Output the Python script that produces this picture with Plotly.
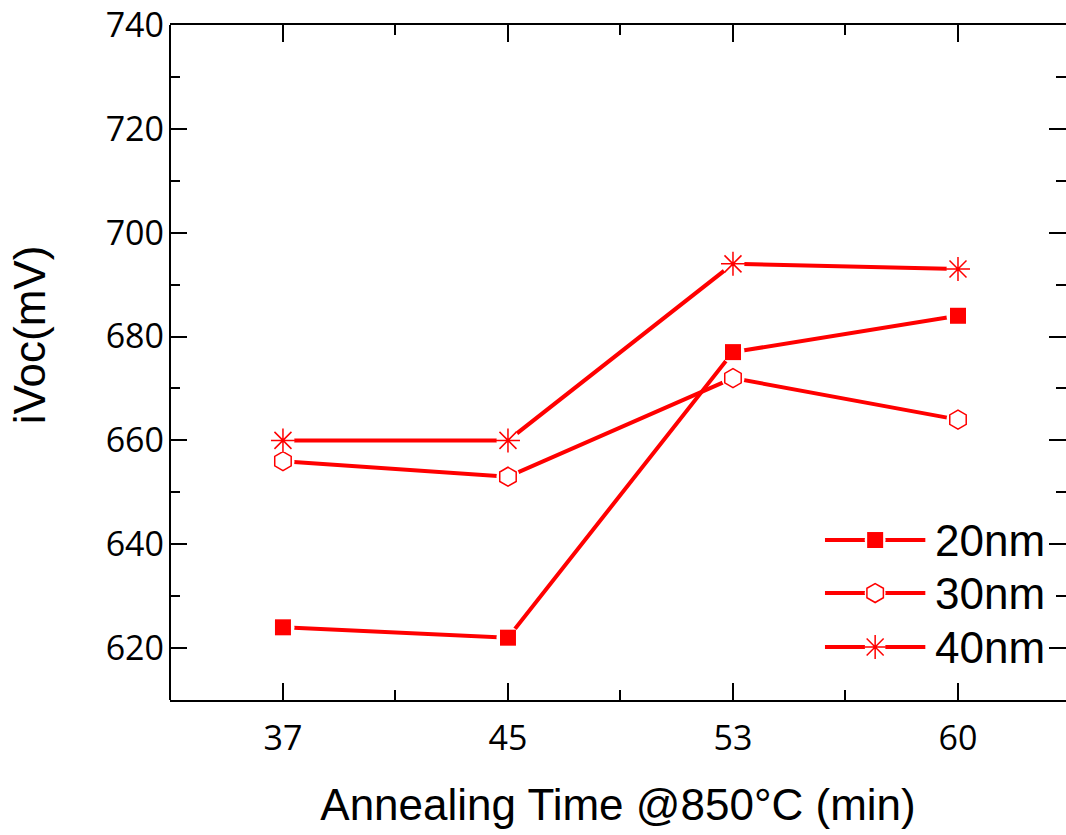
import plotly.graph_objects as go

# Annealing times (min) at 850 °C and implied Voc (mV) per layer thickness
times = ["37", "45", "53", "60"]
ivoc_20nm = [624, 622, 677, 684]
ivoc_30nm = [656, 653, 672, 664]
ivoc_40nm = [660, 660, 694, 693]

series = [
    ("20nm", ivoc_20nm, "square", 16, "#ff0000", 0),
    ("30nm", ivoc_30nm, "hexagon-open", 19, "#ff0000", 1.5),
    ("40nm", ivoc_40nm, "asterisk-open", 20, "#ff0000", 1.5),
]

RED = "#ff0000"
xpos = list(range(len(times)))

fig = go.Figure()

for name, vals, sym, size, col, lw in series:
    # connecting line
    fig.add_trace(go.Scatter(x=xpos, y=vals, mode="lines",
                             line=dict(color=RED, width=4),
                             showlegend=False, hoverinfo="skip"))
    # white halo so the line stops short of each symbol
    fig.add_trace(go.Scatter(x=xpos, y=vals, mode="markers",
                             marker=dict(symbol="circle", size=23, color="white",
                                         line=dict(width=0)),
                             showlegend=False, hoverinfo="skip"))
    # the symbol itself
    fig.add_trace(go.Scatter(x=xpos, y=vals, mode="markers", name=name,
                             marker=dict(symbol=sym, size=size, color=col,
                                         line=dict(color=RED, width=lw)),
                             showlegend=False))

# Hand-drawn legend on an overlay axis spanning the plot area (0..1 both ways)
leg_rows = [0.237, 0.1585, 0.0785]
leg_x0, leg_xm, leg_x1, leg_tx = 0.731, 0.787, 0.843, 0.852
for (name, vals, sym, size, col, lw), ly in zip(series, leg_rows):
    fig.add_trace(go.Scatter(x=[leg_x0, leg_x1], y=[ly, ly], mode="lines",
                             line=dict(color=RED, width=4),
                             xaxis="x2", yaxis="y2", showlegend=False, hoverinfo="skip"))
    fig.add_trace(go.Scatter(x=[leg_xm], y=[ly], mode="markers",
                             marker=dict(symbol="circle", size=21, color="white"),
                             xaxis="x2", yaxis="y2", showlegend=False, hoverinfo="skip"))
    fig.add_trace(go.Scatter(x=[leg_xm], y=[ly], mode="markers",
                             marker=dict(symbol=sym, size=size, color=col,
                                         line=dict(color=RED, width=lw)),
                             xaxis="x2", yaxis="y2", showlegend=False, hoverinfo="skip"))
    fig.add_annotation(x=leg_tx, y=ly, xref="x2", yref="y2", text=name,
                       showarrow=False, xanchor="left", yanchor="middle",
                       font=dict(family="Liberation Sans, Arial", size=44, color="black"))

tick_common = dict(
    ticks="inside", ticklen=17, tickwidth=2, tickcolor="black",
    showgrid=False, zeroline=False,
    tickfont=dict(family="Open Sans", size=34, color="black"),
)

fig.update_layout(
    width=1066, height=835,
    margin=dict(l=170, r=0, t=25, b=135),
    plot_bgcolor="white", paper_bgcolor="white",
    showlegend=False,
    xaxis=dict(
        **tick_common,
        showline=True, linecolor="black", linewidth=2, mirror="ticks",
        range=[-0.502, 3.48],
        tickmode="array", tickvals=xpos, ticktext=times,
        minor=dict(tickmode="array", tickvals=[0.5, 1.5, 2.5],
                   ticks="inside", ticklen=10, tickwidth=2, tickcolor="black"),
        ticklabelstandoff=7,
        title=dict(text="Annealing Time @850°C (min)", standoff=30,
                   font=dict(family="Liberation Sans, Arial", size=44, color="black")),
    ),
    yaxis=dict(
        **tick_common,
        showline=False, mirror="ticks",
        range=[610, 740],
        tickmode="linear", tick0=620, dtick=20,
        minor=dict(dtick=10, tick0=610, ticks="inside", ticklen=10, tickwidth=2,
                   tickcolor="black"),
        ticklabelstandoff=5,
    ),
    xaxis2=dict(overlaying="x", range=[0, 1], visible=False, fixedrange=True),
    yaxis2=dict(overlaying="y", range=[0, 1], visible=False, fixedrange=True),
)

# left frame edge (the right edge sits just past the visible page)
fig.add_shape(type="line", xref="paper", yref="paper", x0=0, x1=0, y0=0, y1=1,
              line=dict(color="black", width=2))

# y-axis title placed as a rotated annotation
fig.add_annotation(x=-0.157, y=0.541, xref="paper", yref="paper", text="iVoc(mV)",
                   showarrow=False, textangle=-90, xanchor="center", yanchor="middle",
                   font=dict(family="Liberation Sans, Arial", size=44, color="black"))

fig.write_html("out.html")
